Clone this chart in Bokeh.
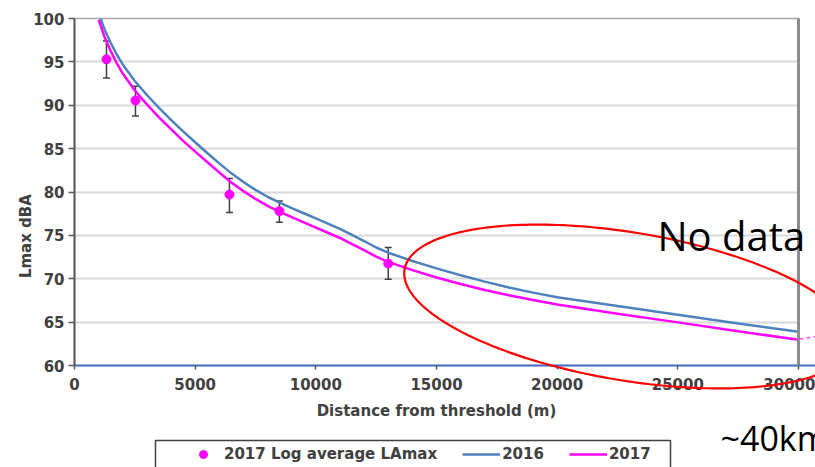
import numpy as np
from bokeh.plotting import figure
from bokeh.models import (Range1d, LinearAxis, FixedTicker, Whisker, TeeHead,
                          ColumnDataSource, Legend, LegendItem, Label,
                          PolyAnnotation, Arrow)
from bokeh.embed import file_html
from bokeh.resources import INLINE

# ---------------- data ----------------
distance = [1000, 1250, 1500, 1750, 2000, 2500, 3000, 3500, 4000, 4500, 5000,
            5500, 6000, 6500, 7000, 7500, 8000, 8500, 9000, 9500, 10000,
            10500, 11000, 11500, 12000, 12500, 13000, 14000, 15000, 16000,
            17000, 18000, 19000, 20000, 22500, 25000, 27500, 30000]
lmax_2016 = [100.6, 98.7, 97.2, 95.85, 94.7, 92.8, 91.18, 89.7, 88.32, 86.99,
             85.74, 84.5, 83.3, 82.15, 81.15, 80.25, 79.45, 78.78, 78.15,
             77.55, 76.95, 76.35, 75.75, 75.05, 74.35, 73.6, 73.0, 72.05,
             71.2, 70.4, 69.67, 69.0, 68.4, 67.87, 66.85, 65.85, 64.85, 63.88]
lmax_2017 = [99.85, 97.85, 96.25, 94.85, 93.65, 91.7, 90.1, 88.6, 87.25, 85.9,
             84.65, 83.45, 82.25, 81.1, 80.1, 79.2, 78.4, 77.7, 77.1, 76.5,
             75.9, 75.3, 74.7, 74.0, 73.3, 72.55, 71.95, 71.0, 70.15, 69.4,
             68.7, 68.1, 67.55, 67.02, 65.97, 64.97, 63.95, 62.96]

obs_distance = [1325, 2527, 6420, 8490, 13000]
obs_lamax = [95.3, 90.55, 79.7, 77.8, 71.75]
obs_upper = [97.4, 92.2, 81.55, 78.95, 73.6]
obs_lower = [93.15, 88.75, 77.65, 76.5, 69.95]

x_ticks = [0, 5000, 10000, 15000, 20000, 25000, 30000]
y_ticks = [60, 65, 70, 75, 80, 85, 90, 95, 100]

BLUE = "#4f81bd"
MAGENTA = "#ff00ff"
TXT = "#404040"
W, H = 815, 467

# ---------------- main chart ----------------
p = figure(width=W, height=H, x_range=Range1d(0, 30000),
           y_range=Range1d(60, 100), output_backend="svg",
           toolbar_location=None, min_border_left=74, min_border_right=17,
           min_border_top=18, min_border_bottom=102)
p.background_fill_color = "white"
p.border_fill_color = "white"
p.outline_line_color = "#a6a6a6"
p.outline_line_width = 1.5

p.xgrid.visible = False
p.ygrid.grid_line_color = "#d9d9d9"
p.ygrid.grid_line_width = 2

p.xaxis.ticker = FixedTicker(ticks=x_ticks)
p.yaxis.ticker = FixedTicker(ticks=y_ticks)

for ax in (p.xaxis[0], p.yaxis[0]):
    ax.major_label_text_font = "DejaVu Sans"
    ax.major_label_text_font_style = "bold"
    ax.major_label_text_font_size = "15px"
    ax.major_label_text_color = TXT
    ax.axis_label_text_font = "DejaVu Sans"
    ax.axis_label_text_font_style = "bold"
    ax.axis_label_text_color = TXT
    ax.major_tick_line_color = "#595959"
    ax.major_tick_line_width = 1.5
    ax.major_tick_in = 0
    ax.minor_tick_line_color = None

p.xaxis.axis_label = "Distance from threshold (m)"
p.xaxis.axis_label_text_font_size = "15px"
p.xaxis.axis_line_color = "#4472c4"
p.xaxis.axis_line_width = 2
p.xaxis.major_tick_out = 4
p.xaxis.major_label_standoff = 8
p.xaxis.axis_label_standoff = 9

p.yaxis.axis_line_color = "#595959"
p.yaxis.axis_line_width = 2
p.yaxis.major_tick_out = 6
p.yaxis.major_label_standoff = 4

right_axis = LinearAxis(ticker=FixedTicker(ticks=[]), axis_line_color="#8c8c8c",
                        axis_line_width=3, major_tick_line_color=None,
                        minor_tick_line_color=None,
                        major_label_text_font_size="0px")
p.add_layout(right_axis, "right")

p.line(distance, lmax_2016, line_color=BLUE, line_width=2.5)
p.line(distance, lmax_2017, line_color=MAGENTA, line_width=2.5)

src = ColumnDataSource(dict(x=obs_distance, y=obs_lamax,
                            upper=obs_upper, lower=obs_lower))
p.add_layout(Whisker(source=src, base="x", upper="upper", lower="lower",
                     line_color="#404040", line_width=1.5,
                     upper_head=TeeHead(size=7, line_color="#404040", line_width=1.5),
                     lower_head=TeeHead(size=7, line_color="#404040", line_width=1.5)))
p.scatter("x", "y", source=src, size=9, marker="circle",
          fill_color=MAGENTA, line_color=MAGENTA)

# ---------------- overlay layer (pixel space, drawn over the chart) ----------------
ov = figure(width=W, height=H, x_range=Range1d(0, W), y_range=Range1d(H, 0),
            output_backend="svg", toolbar_location=None,
            x_axis_type=None, y_axis_type=None, min_border=0)
ov.grid.visible = False
ov.outline_line_color = None
ov.background_fill_alpha = 0
ov.border_fill_alpha = 0
ov.styles = {"position": "absolute", "left": "0px", "top": "0px",
             "pointer-events": "none"}

# y axis title (Excel placed it below the axis centre)
ov.add_layout(Label(x=25, y=233, text="Lmax  dBA", angle=np.pi / 2,
                    text_align="center", text_baseline="middle",
                    text_font="DejaVu Sans", text_font_style="bold",
                    text_font_size="15px", text_color=TXT))

# red ellipse
cx, cy, a, b, th = 628, 306, 227, 74, np.radians(9.4)
t = np.linspace(0, 2 * np.pi, 240)
ex = cx + a * np.cos(th) * np.cos(t) - b * np.sin(th) * np.sin(t)
ey = cy + a * np.sin(th) * np.cos(t) + b * np.cos(th) * np.sin(t)
ov.add_layout(PolyAnnotation(xs=list(ex), ys=list(ey), fill_alpha=0,
                             line_color="red", line_alpha=1, line_width=2.2))

# bits drawn past the plot frame
ov.add_layout(Arrow(end=None, x_start=798, y_start=365, x_end=816, y_end=365,
                    line_color="#4472c4", line_width=2))
ov.add_layout(Arrow(end=None, x_start=799, y_start=338.5, x_end=816, y_end=336,
                    line_color=MAGENTA, line_width=1.5, line_alpha=0.7,
                    line_dash="4 3"))

ov.add_layout(Label(x=657, y=235, text="No data", text_font="Open Sans",
                    text_font_size="40px", text_color="black",
                    text_baseline="alphabetic"))
ov.add_layout(Label(x=720, y=437, text="~40km", text_font="Open Sans",
                    text_font_size="34px", text_color="black",
                    text_baseline="alphabetic"))
ov.add_layout(Label(x=748, y=484, text="threshold", text_font="Open Sans",
                    text_font_size="34px", text_color="black",
                    text_baseline="alphabetic"))

# legend box + legend
ov.add_layout(PolyAnnotation(xs=[155, 670, 670, 155], ys=[440, 440, 478, 478],
                             fill_color="white", fill_alpha=1,
                             line_color="#404040", line_alpha=1, line_width=1.5))
g_dot = ov.scatter(obs_distance, obs_lamax, size=9, marker="circle",
                   fill_color=MAGENTA, line_color=MAGENTA, visible=False)
g_2016 = ov.line(distance, lmax_2016, line_color=BLUE, line_width=2.5, visible=False)
g_2017 = ov.line(distance, lmax_2017, line_color=MAGENTA, line_width=2.5, visible=False)
legend = Legend(items=[LegendItem(label="2017 Log average LAmax", renderers=[g_dot]),
                       LegendItem(label="2016", renderers=[g_2016]),
                       LegendItem(label="2017", renderers=[g_2017])],
                orientation="horizontal", location=(184, 3),
                padding=0, margin=0, spacing=25, glyph_width=38,
                glyph_height=20, label_height=20, label_standoff=2,
                border_line_color=None, background_fill_alpha=0,
                inactive_fill_alpha=0,
                label_text_font="DejaVu Sans", label_text_font_style="bold",
                label_text_font_size="15px", label_text_color=TXT)
ov.add_layout(legend, "center")

open("out.html", "w").write(file_html([p, ov], INLINE))
